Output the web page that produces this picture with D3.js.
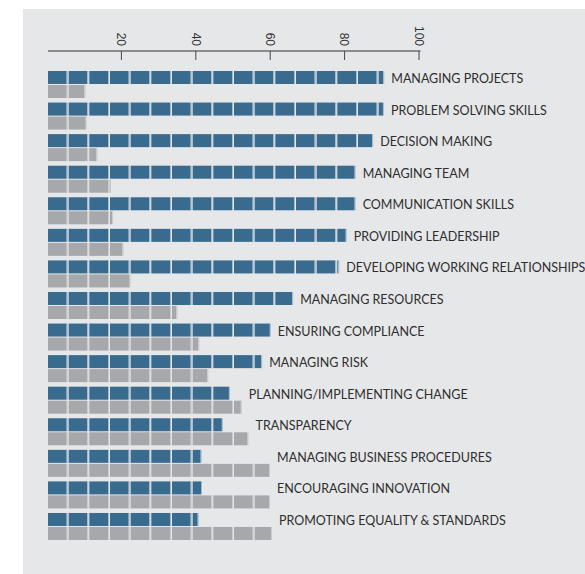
<!DOCTYPE html>
<html>
<head>
<meta charset="utf-8">
<script src="https://cdn.jsdelivr.net/npm/d3@7"></script>
<style>
  html, body { margin: 0; padding: 0; background: #ffffff; }
  svg { display: block; }
</style>
</head>
<body>
<svg id="chart" width="585" height="574"></svg>
<script>
// Skills: share of respondents (blue = top series, grey = lower series), in percent
const skills = [
  "MANAGING PROJECTS",
  "PROBLEM SOLVING SKILLS",
  "DECISION MAKING",
  "MANAGING TEAM",
  "COMMUNICATION SKILLS",
  "PROVIDING LEADERSHIP",
  "DEVELOPING WORKING RELATIONSHIPS",
  "MANAGING RESOURCES",
  "ENSURING COMPLIANCE",
  "MANAGING RISK",
  "PLANNING/IMPLEMENTING CHANGE",
  "TRANSPARENCY",
  "MANAGING BUSINESS PROCEDURES",
  "ENCOURAGING INNOVATION",
  "PROMOTING EQUALITY & STANDARDS"
];
const blueValues = [90.4, 90.3, 87.4, 82.7, 82.7, 80.3, 78.3, 65.9, 59.9, 57.6, 48.9, 47.0, 41.3, 41.4, 40.5];
const greyValues = [10.1, 10.4, 13.3, 16.7, 17.5, 20.3, 22.2, 34.8, 40.7, 43.1, 52.1, 53.9, 59.7, 59.7, 60.2];
const tickValues = [20, 40, 60, 80, 100];

// each bar is built from blocks of this many units
const blockUnits = 100 / 18;

const svg = d3.select("#chart");

// panel background
svg.append("rect")
  .attr("x", 23).attr("y", 9)
  .attr("width", 585 - 23).attr("height", 574 - 9)
  .attr("fill", "#e6e7e9");

const x = d3.scaleLinear().domain([0, 100]).range([48, 420]);
const y = d3.scaleBand().domain(skills).range([71, 71 + 31.57 * 15]).paddingInner(0).paddingOuter(0);

// top axis with rotated tick labels
const axis = d3.axisTop(x).tickValues(tickValues).tickSize(0).tickPadding(0);
const axisG = svg.append("g").attr("transform", "translate(0,51)");
axisG.append("line")
  .attr("x1", x(0)).attr("x2", x(100) + 0.5)
  .attr("stroke", "#333").attr("stroke-width", 1.2);
axisG.selectAll(".tickmark").data(tickValues).join("line")
  .attr("x1", d => x(d) - 1).attr("x2", d => x(d) - 1)
  .attr("y1", 0).attr("y2", 9)
  .attr("stroke", "#444").attr("stroke-width", 1);
const ax = axisG.append("g").call(axis);
ax.select(".domain").remove();
ax.selectAll(".tick").attr("transform", d => `translate(${x(d) - 1},0)`);
ax.selectAll(".tick text")
  .attr("transform", "rotate(90)")
  .attr("x", -5).attr("y", 0)
  .attr("dy", "0.35em")
  .attr("text-anchor", "end")
  .attr("fill", "#333")
  .style("font-family", "'Liberation Sans', Arial, sans-serif")
  .style("font-size", "12px");

const barH = 13;

function blocks(value) {
  const n = Math.ceil(value / blockUnits - 1e-9);
  return d3.range(n).map(i => ({ start: i * blockUnits, end: Math.min((i + 1) * blockUnits, value) }));
}

function drawBar(g, value, yTop, fill, edge) {
  const bs = blocks(value);
  const isLast = d => d.end === value && (d.end - d.start) < blockUnits - 1e-6;
  const sel = g.selectAll(null).data(bs).enter();
  sel.append("rect")
    .attr("x", d => x(d.start))
    .attr("y", yTop)
    .attr("width", d => Math.max(0.5, x(d.end) - x(d.start) - (isLast(d) ? 1 : 2)))
    .attr("height", barH)
    .attr("fill", fill);
  sel.append("rect")
    .attr("x", d => x(d.end) - (isLast(d) ? 1 : 2))
    .attr("y", yTop)
    .attr("width", 1)
    .attr("height", barH)
    .attr("fill", edge);
}

const rows = svg.append("g");
skills.forEach((s, i) => {
  const g = rows.append("g");
  const yTop = y(s);
  drawBar(g, greyValues[i], yTop + 14, "#a7a8ab", "#c9cacc");
  drawBar(g, blueValues[i], yTop, "#386b8d", "#a3b8c8");
  g.append("text")
    .attr("x", x(Math.max(blueValues[i], greyValues[i])) + 7)
    .attr("y", yTop + barH / 2 + 1)
    .attr("dy", "0.36em")
    .attr("fill", "#2e2e2e")
    .style("font-family", "Lato, 'Open Sans', sans-serif")
    .style("font-size", "12.5px")
    .text(s);
});
</script>
</body>
</html>
